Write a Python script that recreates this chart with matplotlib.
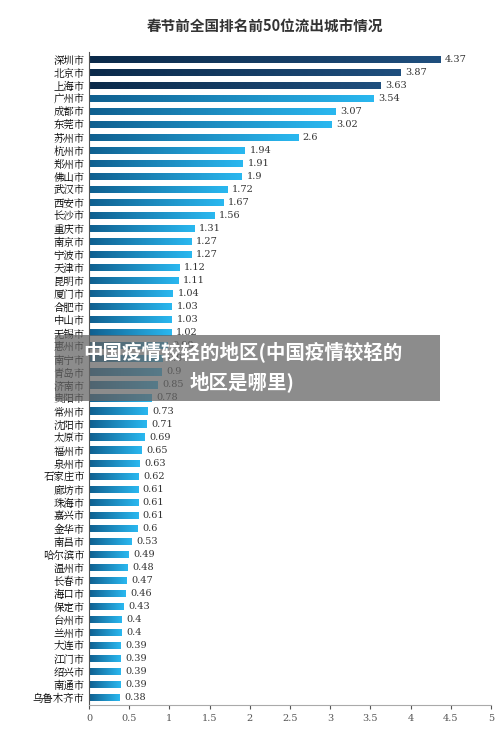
import numpy as np
import matplotlib.pyplot as plt
from matplotlib.colors import LinearSegmentedColormap
from matplotlib.patches import Rectangle

plt.rcParams["font.family"] = ["Noto Sans CJK SC", "DejaVu Sans"]

cities = ["深圳市", "北京市", "上海市", "广州市", "成都市", "东莞市", "苏州市", "杭州市", "郑州市", "佛山市",
          "武汉市", "西安市", "长沙市", "重庆市", "南京市", "宁波市", "天津市", "昆明市", "厦门市", "合肥市",
          "中山市", "无锡市", "惠州市", "南宁市", "青岛市", "济南市", "贵阳市", "常州市", "沈阳市", "太原市",
          "福州市", "泉州市", "石家庄市", "廊坊市", "珠海市", "嘉兴市", "金华市", "南昌市", "哈尔滨市", "温州市",
          "长春市", "海口市", "保定市", "台州市", "兰州市", "大连市", "江门市", "绍兴市", "南通市", "乌鲁木齐市"]
values = [4.37, 3.87, 3.63, 3.54, 3.07, 3.02, 2.6, 1.94, 1.91, 1.9,
          1.72, 1.67, 1.56, 1.31, 1.27, 1.27, 1.12, 1.11, 1.04, 1.03,
          1.03, 1.02, 0.98, 0.91, 0.9, 0.85, 0.78, 0.73, 0.71, 0.69,
          0.65, 0.63, 0.62, 0.61, 0.61, 0.61, 0.6, 0.53, 0.49, 0.48,
          0.47, 0.46, 0.43, 0.4, 0.4, 0.39, 0.39, 0.39, 0.39, 0.38]

dark = LinearSegmentedColormap.from_list("dark", ["#0b2a4a", "#1f4f7e"])
light = LinearSegmentedColormap.from_list("light", ["#0f5f8f", "#2ab8f0"])

fig = plt.figure(figsize=(5, 7.37), dpi=100)
ax = fig.add_axes([0.178, 0.043, 0.804, 0.887])
n = len(cities)
y = np.arange(n)
grad = np.linspace(0, 1, 256).reshape(1, -1)
h = 0.55
for i, (c, v) in enumerate(zip(cities, values)):
    cmap = dark if i < 3 else light
    im = ax.imshow(grad, cmap=cmap, aspect="auto", extent=(0, v, i - h / 2, i + h / 2), zorder=2)
    r = Rectangle((0, i - h / 2), v, h, transform=ax.transData, facecolor="none", edgecolor="none")
    ax.add_patch(r)
    im.set_clip_path(r)
    ax.text(v + 0.06, i, f"{v:g}", va="center", ha="left", fontsize=7, family="DejaVu Serif", color="#333333")

ax.set_xlim(0, 5)
ax.set_ylim(n - 0.4, -0.6)
ax.set_yticks(y)
ax.set_yticklabels(cities, fontsize=7.5, family=["Noto Serif CJK SC", "Noto Sans CJK SC"])
ax.set_xticks(np.arange(0, 5.01, 0.5))
ax.set_xticklabels([f"{t:g}" for t in np.arange(0, 5.01, 0.5)], fontsize=7, family="DejaVu Serif")
for s in ["top", "right"]:
    ax.spines[s].set_visible(False)
ax.spines["left"].set_color("#555555")
ax.spines["bottom"].set_color("#aaaaaa")
ax.tick_params(axis="y", length=0, pad=3)
ax.tick_params(axis="x", length=3, colors="#555555")

fig.text(0.53, 0.963, "春节前全国排名前50位流出城市情况", ha="center", va="center", fontsize=10.5,
         fontweight="bold", color="#333333")

# overlay banner
fig.patches.append(Rectangle((0.11, 1 - 401 / 737), 0.77, 66 / 737, transform=fig.transFigure,
                             facecolor="#666666", alpha=0.75, edgecolor="none", zorder=5))
fig.text(0.485, 1 - 352 / 737, "中国疫情较轻的地区(中国疫情较轻的", ha="center", va="center",
         fontsize=14, fontweight="bold", color="white", zorder=6)
fig.text(0.485, 1 - 382 / 737, "地区是哪里)", ha="center", va="center",
         fontsize=14, fontweight="bold", color="white", zorder=6)

fig.savefig("out.png", dpi=100)
